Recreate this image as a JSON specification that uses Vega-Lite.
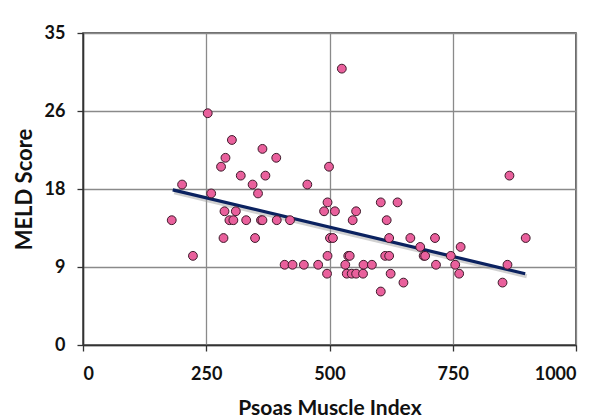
{
  "$schema": "https://vega.github.io/schema/vega-lite/v6.json",
  "width": 493,
  "height": 312,
  "autosize": {"type": "none"},
  "padding": {"left": 83, "top": 33, "right": 24, "bottom": 75},
  "background": "white",
  "config": {
    "view": {"stroke": "#3a3a3a", "strokeWidth": 1.5},
    "font": "Lato",
    "axis": {
      "labelFont": "Lato",
      "labelFontWeight": "bold",
      "labelFontSize": 18,
      "labelColor": "#111111",
      "titleFont": "Lato",
      "titleFontWeight": "bold",
      "titleFontSize": 21,
      "titleColor": "#111111",
      "gridColor": "#8a8a8a",
      "gridWidth": 1.3,
      "gridOpacity": 1,
      "domainColor": "#333333",
      "domainWidth": 1.5,
      "tickColor": "#333333",
      "tickWidth": 1.3,
      "tickSize": 6
    }
  },
  "datasets": {
    "points": [
      {"psoas": 253, "meld": 26}, {"psoas": 302, "meld": 23}, {"psoas": 364, "meld": 22},
      {"psoas": 289, "meld": 21}, {"psoas": 392, "meld": 21}, {"psoas": 280, "meld": 20},
      {"psoas": 499, "meld": 20}, {"psoas": 320, "meld": 19}, {"psoas": 370, "meld": 19},
      {"psoas": 201, "meld": 18}, {"psoas": 344, "meld": 18}, {"psoas": 455, "meld": 18},
      {"psoas": 260, "meld": 17}, {"psoas": 355, "meld": 17}, {"psoas": 525, "meld": 31},
      {"psoas": 865, "meld": 19}, {"psoas": 180, "meld": 14}, {"psoas": 287, "meld": 15},
      {"psoas": 310, "meld": 15}, {"psoas": 297, "meld": 14}, {"psoas": 305, "meld": 14},
      {"psoas": 331, "meld": 14}, {"psoas": 361, "meld": 14}, {"psoas": 364, "meld": 14},
      {"psoas": 393, "meld": 14}, {"psoas": 420, "meld": 14}, {"psoas": 285, "meld": 12},
      {"psoas": 349, "meld": 12}, {"psoas": 223, "meld": 10}, {"psoas": 496, "meld": 16},
      {"psoas": 489, "meld": 15}, {"psoas": 511, "meld": 15}, {"psoas": 501, "meld": 12},
      {"psoas": 507, "meld": 12}, {"psoas": 496, "meld": 10}, {"psoas": 409, "meld": 9},
      {"psoas": 425, "meld": 9}, {"psoas": 448, "meld": 9}, {"psoas": 477, "meld": 9},
      {"psoas": 495, "meld": 8}, {"psoas": 604, "meld": 16}, {"psoas": 638, "meld": 16},
      {"psoas": 554, "meld": 15}, {"psoas": 547, "meld": 14}, {"psoas": 616, "meld": 14},
      {"psoas": 621, "meld": 12}, {"psoas": 664, "meld": 12}, {"psoas": 714, "meld": 12},
      {"psoas": 684, "meld": 11}, {"psoas": 766, "meld": 11}, {"psoas": 898, "meld": 12},
      {"psoas": 538, "meld": 10}, {"psoas": 541, "meld": 10}, {"psoas": 613, "meld": 10},
      {"psoas": 621, "meld": 10}, {"psoas": 691, "meld": 10}, {"psoas": 694, "meld": 10},
      {"psoas": 746, "meld": 10}, {"psoas": 532, "meld": 9}, {"psoas": 569, "meld": 9},
      {"psoas": 586, "meld": 9}, {"psoas": 716, "meld": 9}, {"psoas": 755, "meld": 9},
      {"psoas": 861, "meld": 9}, {"psoas": 535, "meld": 8}, {"psoas": 545, "meld": 8},
      {"psoas": 554, "meld": 8}, {"psoas": 568, "meld": 8}, {"psoas": 624, "meld": 8},
      {"psoas": 763, "meld": 8}, {"psoas": 650, "meld": 7}, {"psoas": 851, "meld": 7},
      {"psoas": 604, "meld": 6}
    ],
    "trend": [
      {"psoas": 182, "meld": 17.4},
      {"psoas": 897, "meld": 8.0}
    ]
  },
  "layer": [
    {
      "data": {"name": "trend"},
      "mark": {"type": "line", "stroke": "#9a9a9a", "strokeWidth": 4, "opacity": 0.45, "xOffset": 1.5, "yOffset": 2.5},
      "encoding": {
        "x": {"field": "psoas", "type": "quantitative", "scale": {"domain": [0, 1000], "nice": false}},
        "y": {"field": "meld", "type": "quantitative", "scale": {"domain": [0, 35], "nice": false}}
      }
    },
    {
      "data": {"name": "trend"},
      "mark": {"type": "line", "stroke": "#0b2260", "strokeWidth": 3.2},
      "encoding": {
        "x": {"field": "psoas", "type": "quantitative"},
        "y": {"field": "meld", "type": "quantitative"}
      }
    },
    {
      "data": {"name": "points"},
      "mark": {"type": "circle", "size": 78, "fill": "#e9609c", "fillOpacity": 1, "stroke": "#3d1a2a", "strokeWidth": 1},
      "encoding": {
        "x": {
          "field": "psoas", "type": "quantitative",
          "scale": {"domain": [0, 1000], "nice": false},
          "axis": {"values": [0, 250, 500, 750, 1000], "format": "d", "title": "Psoas Muscle Index", "labelPadding": 14, "titlePadding": 14}
        },
        "y": {
          "field": "meld", "type": "quantitative",
          "scale": {"domain": [0, 35], "nice": false},
          "axis": {"values": [0, 8.75, 17.5, 26.25, 35], "format": ".0f", "title": "MELD Score", "titleFontSize": 22, "labelPadding": 12, "titlePadding": 8}
        }
      }
    }
  ]
}
